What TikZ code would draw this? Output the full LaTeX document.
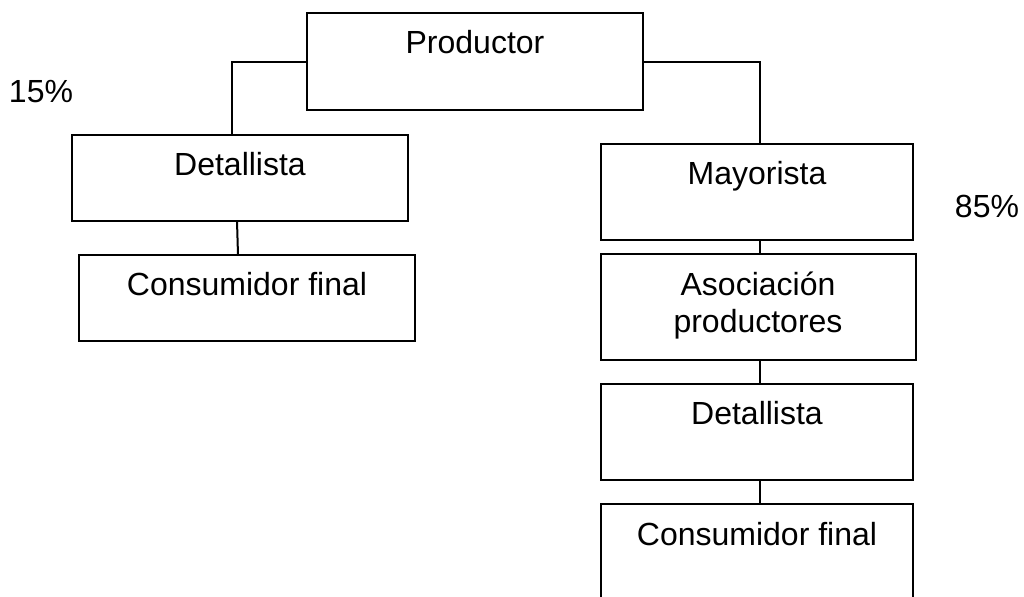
\documentclass[tikz,border=0pt]{standalone}
\usepackage{fontspec}
\setmainfont{Liberation Sans}
\begin{document}
\begin{tikzpicture}[x=0.5pt,y=-0.5pt,
  box/.style={draw=black,line width=1pt,fill=white,inner sep=0pt,outer sep=0pt},
  lbl/.style={font=\fontsize{16pt}{18.5pt}\selectfont,inner sep=0pt,anchor=base},
  link/.style={draw=black,line width=1pt}]
\useasboundingbox (0,0) rectangle (1024,596);
% boxes
\node[box,minimum width=168pt,minimum height=48.5pt] (prod) at (475,61.5) {};
\node[box,minimum width=168pt,minimum height=43pt] (det1) at (240,178) {};
\node[box,minimum width=168pt,minimum height=43pt] (cons1) at (247,298) {};
\node[box,minimum width=156pt,minimum height=48pt] (may) at (757,192) {};
\node[box,minimum width=157.5pt,minimum height=53pt] (asoc) at (758.5,307) {};
\node[box,minimum width=156pt,minimum height=48pt] (det2) at (757,432) {};
\node[box,minimum width=156pt,minimum height=58pt] (cons2) at (757,562) {};
% texts (baseline placement; two-line text is anchored at its last line)
\node[lbl] (tprod) at (475,53) {Productor};
\node[lbl] (tdet1) at (240,175) {Detallista};
\node[lbl] (tcons1) at (247,295) {Consumidor final};
\node[lbl] (tmay) at (757,184) {Mayorista};
\node[lbl,align=center] (tasoc) at (758,332) {Asociación\\productores};
\node[lbl] (tdet2) at (757,424) {Detallista};
\node[lbl] (tcons2) at (757,545) {Consumidor final};
\node[lbl] (p15) at (41,102) {15\%};
\node[lbl] (p85) at (987,217) {85\%};
% connectors
\coordinate (cL) at (232,61.5);
\coordinate (cR) at (760,61.5);
\draw[link] (prod.west) -- (cL) -- (cL |- det1.north);
\draw[link] (prod.east) -- (cR) -- (cR |- may.north);
\draw[link] ([xshift=-1.5pt]det1.south) -- ([xshift=-4.5pt]cons1.north);
\draw[link] ([xshift=1.5pt]may.south) -- ([xshift=0.75pt]asoc.north);
\draw[link] ([xshift=0.75pt]asoc.south) -- ([xshift=1.5pt]det2.north);
\draw[link] ([xshift=1.5pt]det2.south) -- ([xshift=1.5pt]cons2.north);
\end{tikzpicture}
\end{document}
